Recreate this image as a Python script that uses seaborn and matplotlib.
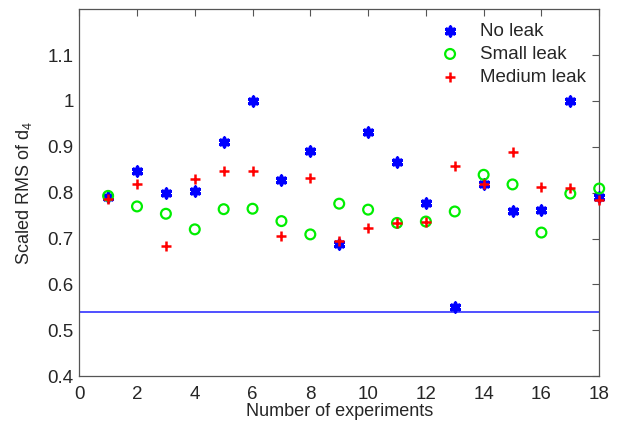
import matplotlib
matplotlib.use("Agg")
import matplotlib.pyplot as plt
import seaborn as sns
import numpy as np
import pandas as pd

# Scaled RMS of d4 for each experiment and leak condition
experiments = list(range(1, 19))
no_leak = [0.790, 0.847, 0.799, 0.803, 0.911, 1.000, 0.827, 0.892, 0.689,
           0.932, 0.867, 0.778, 0.550, 0.818, 0.760, 0.762, 1.000, 0.791]
small_leak = [0.793, 0.770, 0.754, 0.720, 0.764, 0.765, 0.738, 0.709, 0.776,
              0.763, 0.734, 0.737, 0.759, 0.839, 0.818, 0.713, 0.798, 0.809]
medium_leak = [0.786, 0.818, 0.683, 0.829, 0.847, 0.847, 0.706, 0.832, 0.695,
               0.722, 0.734, 0.737, 0.858, 0.818, 0.889, 0.812, 0.811, 0.783]
threshold = 0.54
series_labels = ["No leak", "Small leak", "Medium leak"]

sns.set_theme(style="white")
plt.rcParams["font.family"] = ["Liberation Sans", "DejaVu Sans"]
plt.rcParams["mathtext.fontset"] = "custom"
plt.rcParams["mathtext.rm"] = "Liberation Sans"
plt.rcParams["mathtext.it"] = "Liberation Sans"

fig = plt.figure(figsize=(6.19, 4.23), dpi=100)
ax = fig.add_axes([0.128, 0.111, 0.840, 0.867])

df = pd.DataFrame({"exp": experiments, "no": no_leak,
                   "small": small_leak, "medium": medium_leak})

asterisk = (6, 2, 0)
sns.scatterplot(data=df, x="exp", y="no", ax=ax, marker=asterisk, s=38,
                color="#0000ff", edgecolor="#0000ff", linewidth=2.6,
                label=series_labels[0], zorder=3, clip_on=False)
sns.scatterplot(data=df, x="exp", y="small", ax=ax, marker="o", s=50,
                facecolor="none", edgecolor="#00ee00", linewidth=1.6,
                label=series_labels[1], zorder=3, clip_on=False)
sns.scatterplot(data=df, x="exp", y="medium", ax=ax, marker="+", s=58,
                color="#ff0000", linewidth=1.8,
                label=series_labels[2], zorder=4, clip_on=False)

ax.axhline(threshold, color="#2020ff", linewidth=1.1, zorder=2)

ax.set_xlim(0, 18)
ax.set_ylim(0.4, 1.2)
ax.set_xticks(np.arange(0, 19, 2))
ax.set_yticks(np.round(np.arange(0.4, 1.15, 0.1), 1))
ax.set_yticklabels(["0.4", "0.5", "0.6", "0.7", "0.8", "0.9", "1", "1.1"])

text_color = "#262626"
ax.set_xlabel("Number of experiments", fontsize=13, color=text_color, labelpad=0)
ax.set_ylabel("Scaled RMS of d$_4$", fontsize=13, color=text_color, labelpad=10)
ax.tick_params(axis="both", which="both", direction="in", length=5, width=0.8,
               top=True, right=True, labelsize=13.5, colors="#555555",
               labelcolor=text_color)
ax.tick_params(axis="x", pad=7)
ax.tick_params(axis="y", pad=4)
for sp in ax.spines.values():
    sp.set_color("#555555")
    sp.set_linewidth(0.9)

leg = ax.legend(loc="upper right", bbox_to_anchor=(1.0, 1.0), frameon=False,
                fontsize=13.5, labelspacing=0.33, handletextpad=1.0,
                borderaxespad=0.3, handlelength=1.2)
for t in leg.get_texts():
    t.set_color(text_color)

fig.savefig("out.png", dpi=100)
